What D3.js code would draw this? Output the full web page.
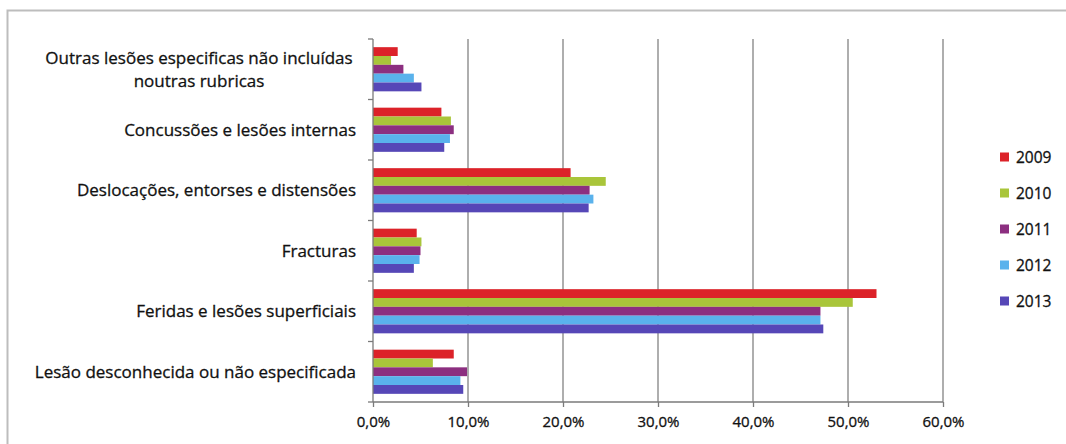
<!DOCTYPE html>
<html>
<head>
<meta charset="utf-8">
<script src="https://cdn.jsdelivr.net/npm/d3@7"></script>
<style>
  html, body { margin: 0; padding: 0; background: #fff; }
  svg { display: block; }
  text { font-family: "Open Sans", Lato, sans-serif; fill: #111; stroke: #111; stroke-width: 0.3px; }
</style>
</head>
<body>
<svg id="chart" width="1066" height="444"></svg>
<script>
// Injury categories, top to bottom
const categories = [
  ["Outras lesões especificas não incluídas", "noutras rubricas"],
  ["Concussões e lesões internas"],
  ["Deslocações, entorses e distensões"],
  ["Fracturas"],
  ["Feridas e lesões superficiais"],
  ["Lesão desconhecida ou não especificada"]
];
const years = ["2009", "2010", "2011", "2012", "2013"];

// Share of each category per year (%), same order as categories
const v2009 = [2.6, 7.2, 20.8, 4.6, 53.0, 8.5];
const v2010 = [1.9, 8.2, 24.5, 5.1, 50.5, 6.3];
const v2011 = [3.2, 8.5, 22.8, 5.0, 47.1, 9.9];
const v2012 = [4.3, 8.1, 23.2, 4.9, 47.1, 9.2];
const v2013 = [5.1, 7.5, 22.7, 4.3, 47.4, 9.5];
const seriesValues = [v2009, v2010, v2011, v2012, v2013];

const xTicks = [0, 10, 20, 30, 40, 50, 60];
const colors = ["#dc2229", "#a9c53a", "#8c2f80", "#5ab2ec", "#5647b7"];

const svg = d3.select("#chart");
const margin = { left: 373, top: 39, right: 123, bottom: 42 };
const W = 1066, H = 444;
const plotW = W - margin.left - margin.right;
const plotH = H - margin.top - margin.bottom;

// Outer frame of the chart area
svg.append("path")
  .attr("d", `M7.5,444 V10.5 H1066`)
  .attr("fill", "none").attr("stroke", "#bdbdbd").attr("stroke-width", 2);

const g = svg.append("g").attr("transform", `translate(${margin.left},${margin.top})`);

const x = d3.scaleLinear().domain([0, 60]).range([0, plotW]);
const y = d3.scaleBand().domain(d3.range(categories.length)).range([0, plotH])
  .paddingInner(0.27).paddingOuter(0.135);
const yInner = d3.scaleBand().domain(d3.range(years.length)).range([0, y.bandwidth()]);
const yOuter = d3.scaleBand().domain(d3.range(categories.length)).range([0, plotH]);

// Vertical gridlines
g.append("g").selectAll("line")
  .data(xTicks.slice(1))
  .join("line")
  .attr("x1", d => x(d)).attr("x2", d => x(d))
  .attr("y1", 0).attr("y2", plotH)
  .attr("stroke", "#9a9a9a").attr("stroke-width", 1.6);

// Bars
categories.forEach((c, i) => {
  const grp = g.append("g").attr("transform", `translate(0,${y(i)})`);
  grp.selectAll("rect")
    .data(seriesValues.map((s, k) => ({ k, v: s[i] })))
    .join("rect")
    .attr("x", 0)
    .attr("y", d => yInner(d.k))
    .attr("width", d => x(d.v))
    .attr("height", yInner.bandwidth())
    .attr("fill", d => colors[d.k]);
});

// Left category axis
const yAxis = g.append("g");
yAxis.append("line").attr("x1", 0).attr("x2", 0).attr("y1", 0).attr("y2", plotH)
  .attr("stroke", "#7a7a7a").attr("stroke-width", 1.3);
yAxis.selectAll("line.tick")
  .data(d3.range(categories.length + 1))
  .join("line").attr("class", "tick")
  .attr("x1", -5).attr("x2", 0)
  .attr("y1", d => d === categories.length ? plotH : yOuter(d))
  .attr("y2", d => d === categories.length ? plotH : yOuter(d))
  .attr("stroke", "#7a7a7a").attr("stroke-width", 1.3);

// Category labels (multi-line labels are centred as a block)
categories.forEach((lines, i) => {
  const cy = yOuter(i) + yOuter.bandwidth() / 2;
  const lh = 23;
  const t = g.append("text")
    .attr("x", -17)
    .attr("text-anchor", "end")
    .style("font-size", "17px");
  if (lines.length === 1) {
    t.append("tspan").attr("x", -17).attr("y", cy + 6).text(lines[0]);
  } else {
    const blockW = 314;
    t.attr("text-anchor", "middle");
    lines.forEach((ln, j) => {
      t.append("tspan")
        .attr("x", -17 - blockW / 2)
        .attr("y", cy + 6 + (j - (lines.length - 1) / 2) * lh)
        .text(ln);
    });
  }
});

// Bottom value axis
const xAxis = d3.axisBottom(x)
  .tickValues(xTicks)
  .tickSize(5)
  .tickFormat(d => d3.format(".1f")(d).replace(".", ",") + "%");
const ax = g.append("g").attr("transform", `translate(0,${plotH})`).call(xAxis);
ax.select(".domain").attr("stroke", "#7a7a7a").attr("stroke-width", 1.3)
  .attr("d", `M0,0H${plotW}`);
ax.selectAll(".tick line").attr("stroke", "#7a7a7a").attr("stroke-width", 1.3);
ax.selectAll(".tick text")
  .attr("y", 14)
  .style("font-size", "15px")
  .style("font-family", "'Open Sans', Lato, sans-serif")
  .attr("fill", "#111");

// Legend
const legend = svg.append("g").attr("transform", "translate(1000,157)");
years.forEach((yr, k) => {
  const row = legend.append("g").attr("transform", `translate(0,${k * 36})`);
  row.append("rect").attr("x", 0).attr("y", -4.5).attr("width", 9).attr("height", 9)
    .attr("fill", colors[k]);
  row.append("text").attr("x", 16).attr("y", 5.5).style("font-size", "15.5px").text(yr);
});
</script>
</body>
</html>
